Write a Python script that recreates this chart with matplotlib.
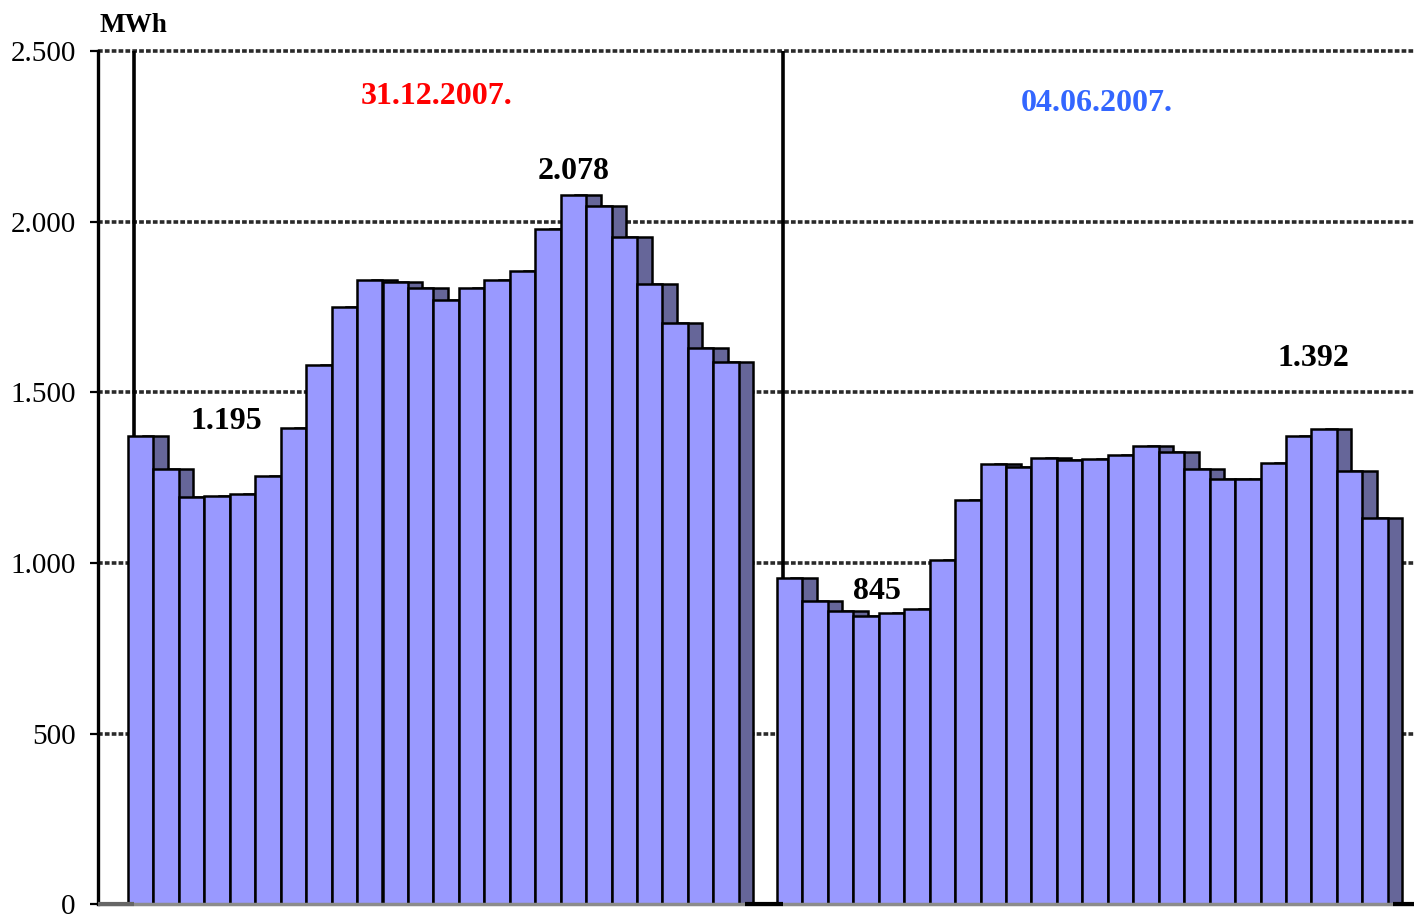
import numpy as np
import matplotlib
matplotlib.use("Agg")
import matplotlib.pyplot as plt
from matplotlib.ticker import FuncFormatter

plt.rcParams['font.family'] = ['Liberation Serif', 'DejaVu Serif']

# hourly consumption, MWh
winter = [1373, 1276, 1195, 1197, 1203, 1255, 1396, 1580, 1750, 1830, 1822, 1807,
          1771, 1806, 1828, 1857, 1980, 2078, 2047, 1956, 1818, 1704, 1631, 1590]
summer = [957, 889, 861, 845, 854, 865, 1009, 1184, 1290, 1281, 1308, 1301,
          1304, 1316, 1344, 1324, 1275, 1247, 1247, 1294, 1373, 1392, 1270, 1132]
dates = ["31.12.2007.", "04.06.2007."]
date_colors = ["#FF0000", "#3366FF"]
yticks = [0, 500, 1000, 1500, 2000, 2500]

front = "#9999FF"
side = "#666699"
shadow_off = 0.57
starts = [0.0, 25.5]

fig = plt.figure(figsize=(14.14, 9.16), dpi=100)
ax = fig.add_axes([98 / 1414, 0.00697, 1 - 98 / 1414, 0.94108])

for start, vals in zip(starts, [winter, summer]):
    x = start + np.arange(len(vals))
    ax.bar(x + shadow_off, vals, width=1.0, align='edge', color=side,
           edgecolor='black', linewidth=1.8, zorder=2)
    ax.bar(x, vals, width=1.0, align='edge', color=front,
           edgecolor='black', linewidth=1.8, zorder=3)
    # back wall edge of each 3d block
    ax.vlines(start + 0.24, 0, 2500, color='black', linewidth=2.6, zorder=1.8)

# floor
ax.axhline(0, color='#8c8c8c', linewidth=2.5, zorder=5)
ax.hlines(0, -1.2, starts[0] + 0.24, color='#666666', linewidth=3, zorder=5)
ax.hlines(0, starts[1] - 1.26, starts[1] + 0.24, color='black', linewidth=3, zorder=5)
ax.hlines(0, starts[1] + 24.2, 51, color='black', linewidth=3, zorder=5)

# min / max labels
def fmt(v):
    return f"{v:,.0f}".replace(",", ".")

lab = dict(ha='center', va='center', fontsize=23, fontweight='bold',
           textcoords='offset points', zorder=6)
i = int(np.argmin(winter))
ax.annotate(fmt(winter[i]), (starts[0] + i + 0.5, winter[i]), xytext=(25, 54), **lab)
i = int(np.argmax(winter))
ax.annotate(fmt(winter[i]), (starts[0] + i + 0.5, winter[i]), xytext=(0, 17), **lab)
i = int(np.argmin(summer))
ax.annotate(fmt(summer[i]), (starts[1] + i + 0.5, summer[i]), xytext=(8, 18), **lab)
i = int(np.argmax(summer))
ax.annotate(fmt(summer[i]), (starts[1] + i + 0.5, summer[i]), xytext=(-8, 51), **lab)

ax.text(starts[0] + 12.14, 2366, dates[0], color=date_colors[0], ha='center',
        va='center', fontsize=23, fontweight='bold')
ax.text(starts[1] + 12.57, 2345, dates[1], color=date_colors[1], ha='center',
        va='center', fontsize=23, fontweight='bold')

ax.set_xlim(-30 / 25.45, (1414 - 128) / 25.45)
ax.set_ylim(-15, 2510)
ax.set_yticks(yticks)
ax.yaxis.set_major_formatter(FuncFormatter(lambda v, p: fmt(v)))
ax.set_xticks([])
ax.tick_params(axis='y', length=6, width=1.6, pad=10, labelsize=21)
ax.grid(axis='y', color='#2a2a2a', linestyle=(0, (1.3, 0.6)), linewidth=2.6)
ax.set_axisbelow(True)
for s in ['top', 'right', 'bottom']:
    ax.spines[s].set_visible(False)
ax.spines['left'].set_linewidth(2.4)
ax.spines['left'].set_bounds(0, 2500)

fig.text(100 / 1414, 1 - 25 / 916, "MWh", ha='left', va='center',
         fontsize=19.5, fontweight='bold')

fig.savefig("out.png", dpi=100)
